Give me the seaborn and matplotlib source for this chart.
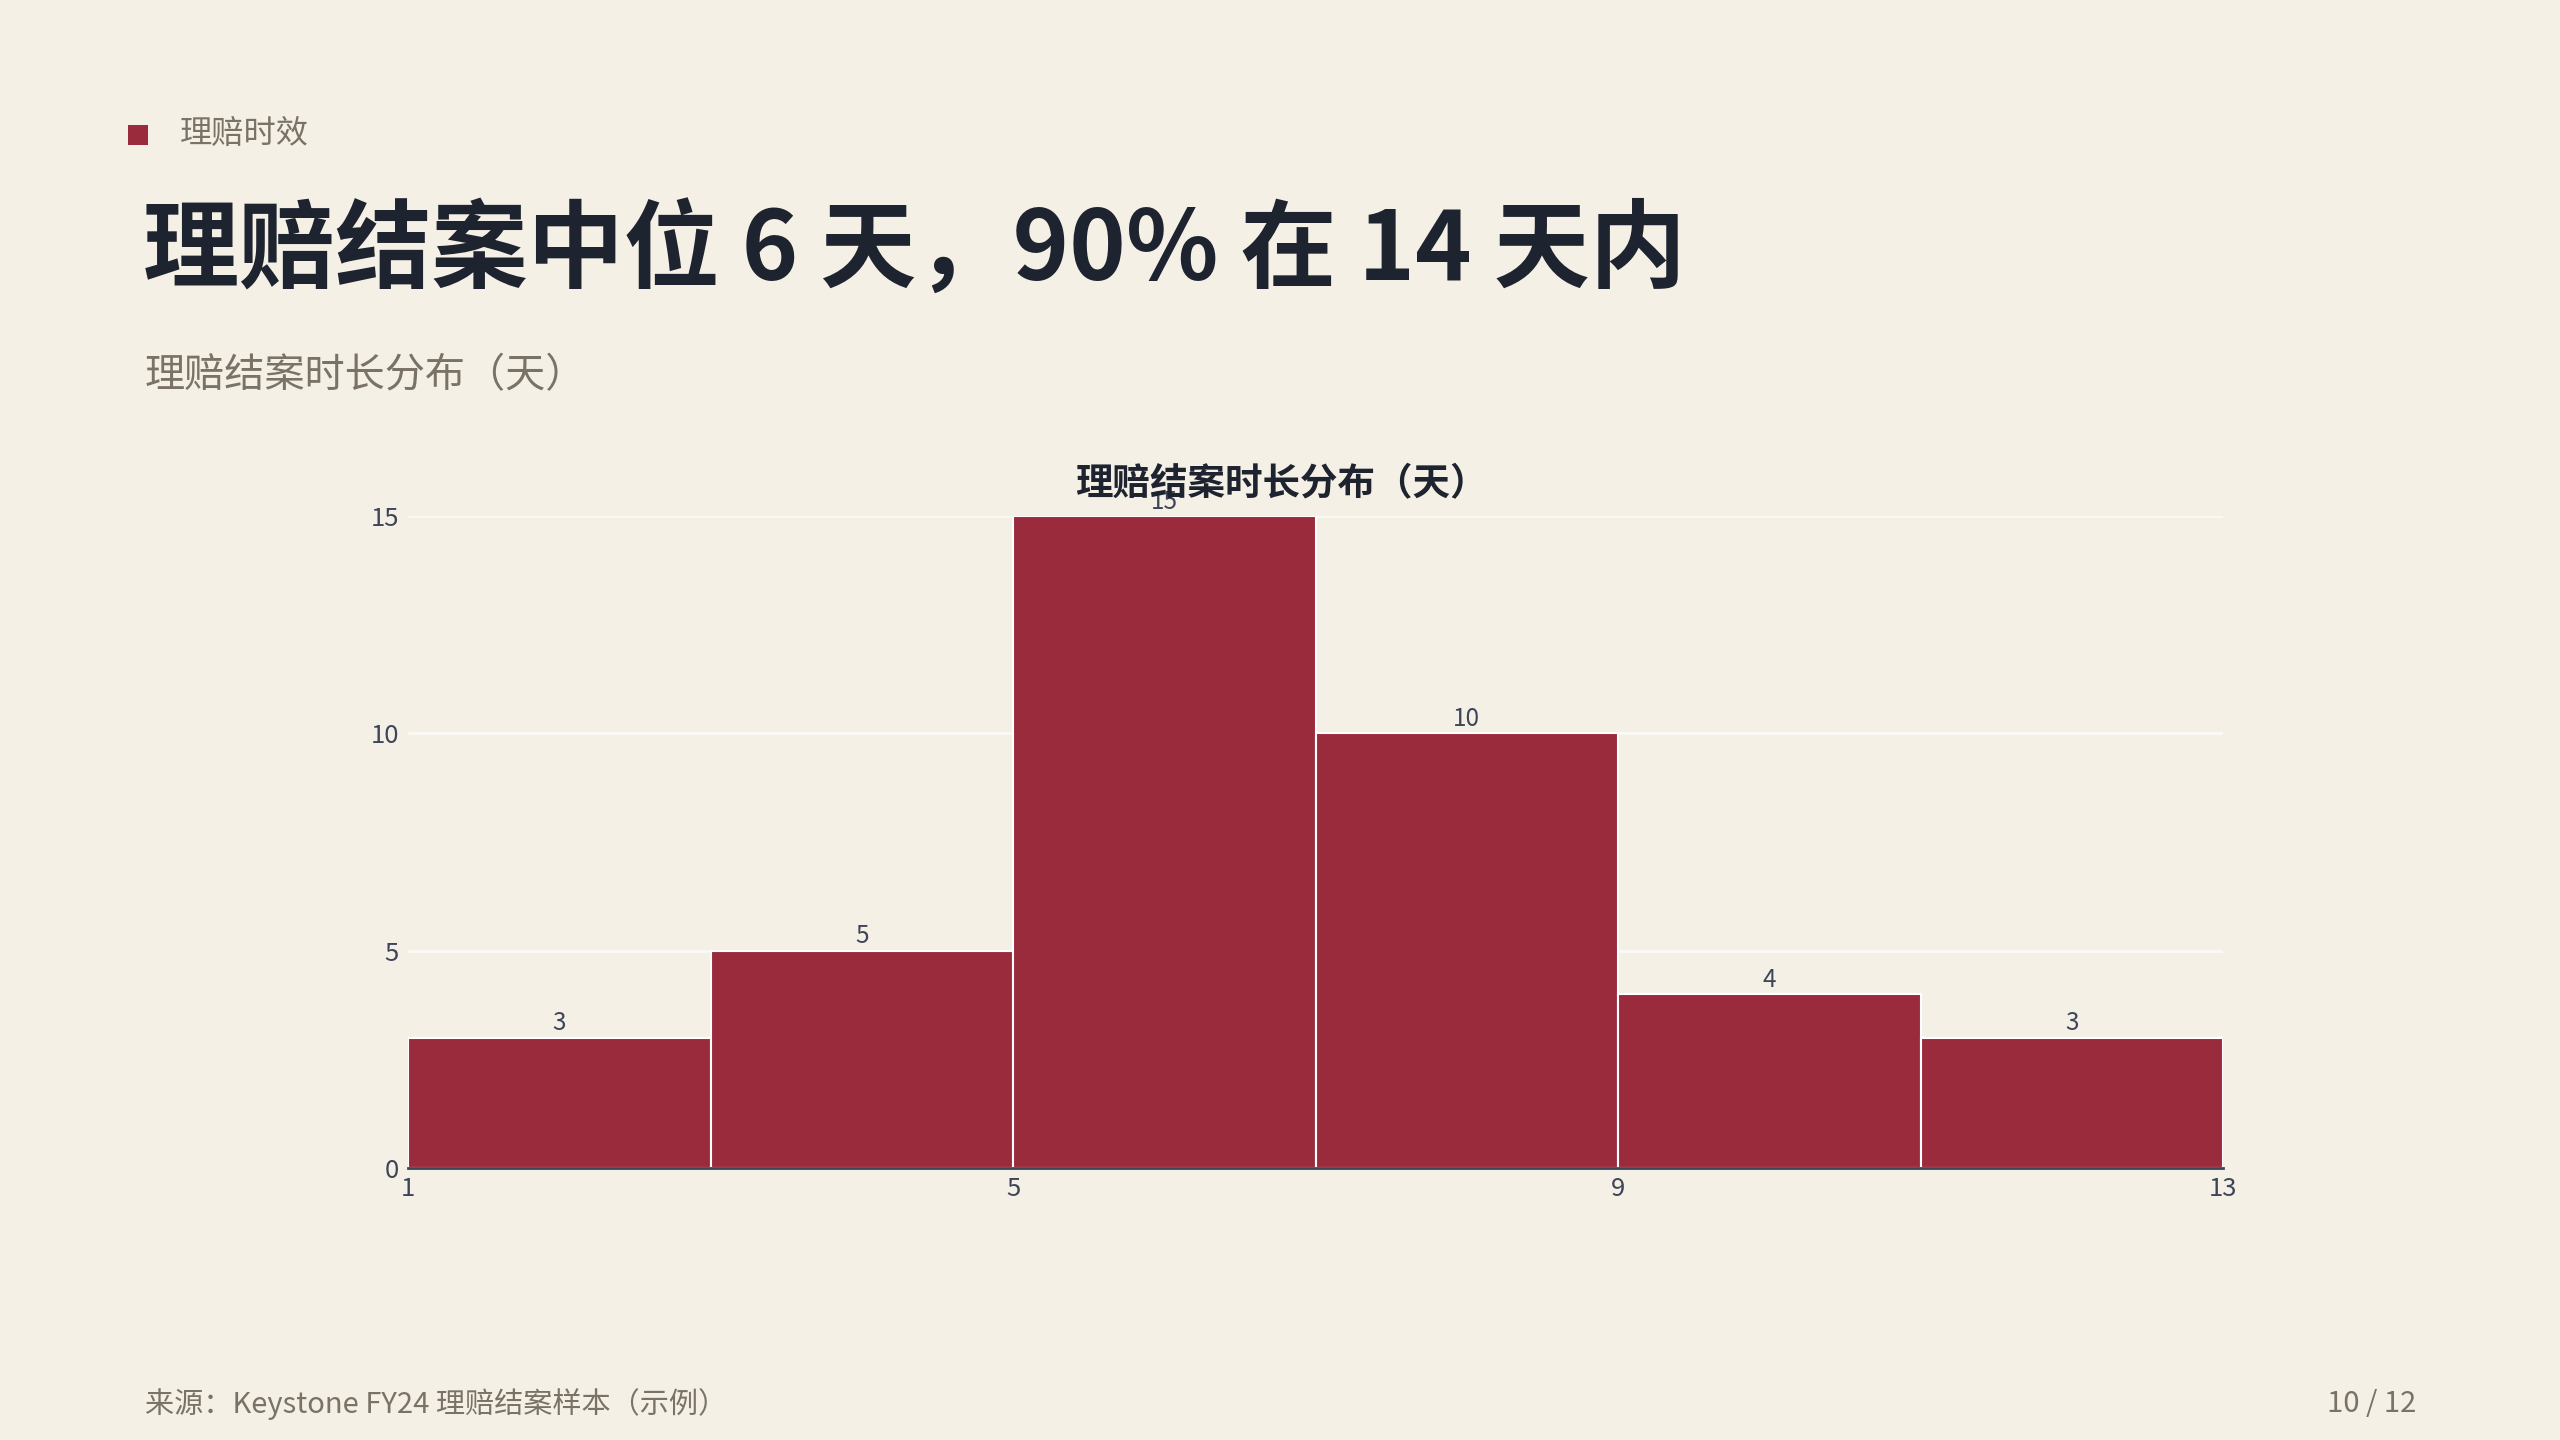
import matplotlib
matplotlib.use("Agg")
import matplotlib.pyplot as plt
from matplotlib.patches import Rectangle
import seaborn as sns
import numpy as np

# ---- data ----
bin_edges = [1, 3, 5, 7, 9, 11, 13]
bin_centers = [2, 4, 6, 8, 10, 12]
counts = [3, 5, 15, 10, 4, 3]
x_ticks = [1, 5, 9, 13]
y_ticks = [0, 5, 10, 15]

kicker = "理赔时效"
title = "理赔结案中位 6 天，90% 在 14 天内"
subtitle = "理赔结案时长分布（天）"
chart_title = "理赔结案时长分布（天）"
source = "来源：Keystone FY24 理赔结案样本（示例）"
page = "10 / 12"

BG = "#f5f0e6"
BAR = "#9a2b3c"
DARK = "#1e2330"
MUTED = "#7a7265"
TICK = "#3d4559"
GRID = "#fbf9f4"

sns.set_theme(style="white")
plt.rcParams['font.family'] = ['Noto Sans CJK SC', 'DejaVu Sans']

W, H = 2560, 1440
fig = plt.figure(figsize=(25.6, 14.4), dpi=100, facecolor=BG)

def fx(px):
    return px / W

def fy(py):
    return 1 - py / H

ax = fig.add_axes([fx(408), fy(1168), fx(2223) - fx(408), fy(516) - fy(1168)])
ax.set_facecolor(BG)

sns.histplot(x=bin_centers, weights=counts, bins=bin_edges, ax=ax,
             color=BAR, alpha=1, edgecolor="white", linewidth=1.5, zorder=3)

ax.set_xlim(1, 13)
ax.set_ylim(0, 15)
ax.set_xticks(x_ticks)
ax.set_yticks(y_ticks)
ax.set_xticklabels([str(v) for v in x_ticks])
ax.set_yticklabels([str(v) for v in y_ticks])
ax.set_xlabel("")
ax.set_ylabel("")
ax.grid(axis="y", color=GRID, linewidth=2, zorder=0)
ax.grid(axis="x", visible=False)
for s in ["top", "right", "left"]:
    ax.spines[s].set_visible(False)
ax.spines["bottom"].set_color(TICK)
ax.spines["bottom"].set_linewidth(2)
ax.spines["bottom"].set_zorder(5)
ax.tick_params(axis="both", length=0, labelsize=18.5, colors=TICK)
ax.tick_params(axis="y", pad=6.5)
ax.tick_params(axis="x", pad=5.5)

labels = ax.bar_label(ax.containers[0], labels=[str(c) for c in counts],
                      padding=1, fontsize=17.5, color=TICK)
for t in labels:
    t.set_clip_on(False)
    t.set_zorder(6)

# ---- header / footer ----
fig.add_artist(Rectangle((fx(128), fy(145)), fx(20), 20 / H,
                         transform=fig.transFigure, color=BAR, lw=0))
fig.text(fx(180), fy(134), kicker, fontsize=23.2, color=MUTED, va="center", ha="left")
fig.text(fx(143), fy(253), title, fontsize=69.2, fontweight="bold", color=DARK,
         va="center", ha="left")
fig.text(fx(145), fy(376), subtitle, fontsize=28.9, color=MUTED, va="center", ha="left")
fig.text(fx(1281), fy(484), chart_title, fontsize=27, fontweight="bold",
         color=DARK, va="center", ha="center", zorder=7)
fig.text(fx(145), fy(1404), source, fontsize=21, color=MUTED, va="center", ha="left")
fig.text(fx(2416), fy(1404), page, fontsize=21, color=MUTED, va="center", ha="right")

fig.savefig("out.png", dpi=100, facecolor=BG)
